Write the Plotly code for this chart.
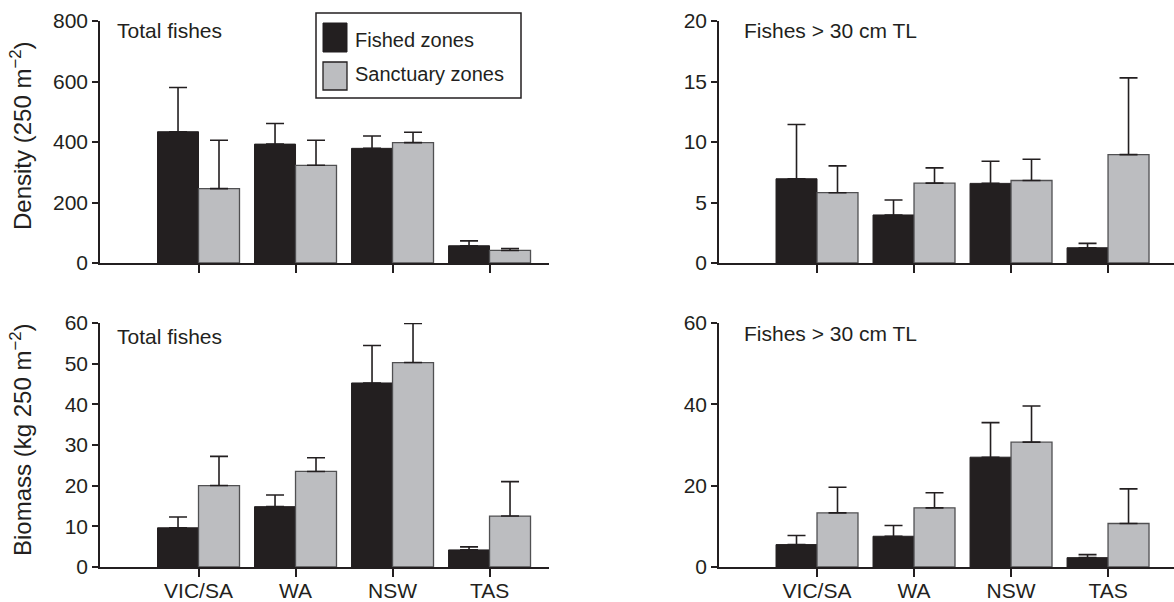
import plotly.graph_objects as go

W, H = 1174, 602

# ---------------- data ----------------
regions = ["VIC/SA", "WA", "NSW", "TAS"]
series_names = ["Fished zones", "Sanctuary zones"]

density_total_fished = [434, 393, 379, 57]
density_total_fished_err = [146, 68, 41, 16]
density_total_sanct = [246, 323, 398, 41.5]
density_total_sanct_err = [160, 83, 34, 6.5]

density_large_fished = [6.96, 3.97, 6.58, 1.26]
density_large_fished_err = [4.49, 1.24, 1.83, 0.36]
density_large_sanct = [5.81, 6.60, 6.82, 8.96]
density_large_sanct_err = [2.22, 1.26, 1.76, 6.34]

biomass_total_fished = [9.64, 14.84, 45.25, 4.2]
biomass_total_fished_err = [2.64, 2.88, 9.23, 0.75]
biomass_total_sanct = [20.03, 23.49, 50.27, 12.53]
biomass_total_sanct_err = [7.17, 3.38, 9.63, 8.47]

biomass_large_fished = [5.51, 7.56, 27.0, 2.3]
biomass_large_fished_err = [2.22, 2.64, 8.5, 0.74]
biomass_large_sanct = [13.3, 14.55, 30.7, 10.7]
biomass_large_sanct_err = [6.3, 3.7, 8.9, 8.5]

panel_titles = ["Total fishes", "Fishes > 30 cm TL", "Total fishes", "Fishes > 30 cm TL"]
y_titles = ["Density (250 m<sup>−2</sup>)", "Biomass (kg 250 m<sup>−2</sup>)"]
y_ticks = [[0, 200, 400, 600, 800], [0, 5, 10, 15, 20], [0, 10, 20, 30, 40, 50, 60], [0, 20, 40, 60]]

# ---------------- style ----------------
INK = "#231f20"
GRAY = "#bcbdc0"
GRAY_EDGE = "#505052"
FONT = "Liberation Sans, Arial, Helvetica, sans-serif"
FS_TICK = 21
FS_LABEL = 21
FS_LEG = 20
FS_YT = 24


def px_x(p):
    return p / W


def px_y(p):
    return 1 - p / H


panels = [
    (density_total_fished, density_total_fished_err, density_total_sanct, density_total_sanct_err),
    (density_large_fished, density_large_fished_err, density_large_sanct, density_large_sanct_err),
    (biomass_total_fished, biomass_total_fished_err, biomass_total_sanct, biomass_total_sanct_err),
    (biomass_large_fished, biomass_large_fished_err, biomass_large_sanct, biomass_large_sanct_err),
]

fig = go.Figure()

for i, (f, fe, s, se) in enumerate(panels):
    suffix = "" if i == 0 else str(i + 1)
    xa, ya = "x" + suffix, "y" + suffix
    fig.add_trace(go.Bar(
        x=regions, y=f, name=series_names[0], xaxis=xa, yaxis=ya,
        marker=dict(color=INK, line=dict(color=INK, width=1)),
        error_y=dict(type="data", array=fe, arrayminus=[0] * len(fe), symmetric=False,
                     color=INK, thickness=1.6, width=9),
        showlegend=False,
    ))
    fig.add_trace(go.Bar(
        x=regions, y=s, name=series_names[1], xaxis=xa, yaxis=ya,
        marker=dict(color=GRAY, line=dict(color=GRAY_EDGE, width=1.3)),
        error_y=dict(type="data", array=se, arrayminus=[0] * len(se), symmetric=False,
                     color=INK, thickness=1.6, width=9),
        showlegend=False,
    ))

# domains (pixels -> paper)
x_dom_left = [px_x(100), px_x(549)]
x_dom_right = [px_x(719), 1.0]
y_dom_top = [px_y(263), px_y(21)]
y_dom_bot = [px_y(567), px_y(323)]

x_ranges = [[-1.0155, 3.613], [-1.0103, 3.68], [-1.0155, 3.613], [-1.0103, 3.68]]
y_ranges = [[0, 800], [0, 20], [0, 60], [0, 60]]
x_doms = [x_dom_left, x_dom_right, x_dom_left, x_dom_right]
y_doms = [y_dom_top, y_dom_top, y_dom_bot, y_dom_bot]

layout = dict(
    width=W, height=H, autosize=False,
    margin=dict(l=0, r=0, t=0, b=0, pad=0, autoexpand=False),
    paper_bgcolor="white", plot_bgcolor="white",
    barmode="group", bargap=0.155, bargroupgap=0,
    font=dict(family=FONT, size=FS_TICK, color=INK),
)

for i in range(4):
    suffix = "" if i == 0 else str(i + 1)
    layout["xaxis" + suffix] = dict(
        domain=x_doms[i], anchor="y" + suffix, type="category",
        categoryorder="array", categoryarray=regions,
        range=x_ranges[i], showgrid=False, zeroline=False,
        showline=True, linecolor=INK, linewidth=1.5,
        ticks="outside", ticklen=8, tickwidth=1.5, tickcolor=INK,
        showticklabels=(i >= 2), tickfont=dict(size=FS_TICK, color=INK),
        ticklabelstandoff=-4, automargin=False,
    )
    layout["yaxis" + suffix] = dict(
        domain=y_doms[i], anchor="x" + suffix, range=y_ranges[i],
        tickvals=y_ticks[i], showgrid=False, zeroline=False,
        showline=True, linecolor=INK, linewidth=1.5,
        ticks="outside", ticklen=6, tickwidth=1.5, tickcolor=INK,
        tickfont=dict(size=FS_TICK, color=INK), automargin=False,
    )

fig.update_layout(**layout)

# panel labels
label_pos = [(115, 31), (742, 31), (115, 336), (742, 333)]
for txt, (lx, ly) in zip(panel_titles, label_pos):
    fig.add_annotation(text=txt, xref="paper", yref="paper", x=px_x(lx), y=px_y(ly),
                       xanchor="left", yanchor="middle", showarrow=False,
                       font=dict(size=FS_LABEL, color=INK, family=FONT))

# y-axis titles
for txt, cy in zip(y_titles, [136, 440]):
    fig.add_annotation(text=txt, xref="paper", yref="paper", x=px_x(21), y=px_y(cy),
                       xanchor="center", yanchor="middle", textangle=-90, showarrow=False,
                       font=dict(size=FS_YT, color=INK, family=FONT))

# legend (box, swatches, labels)
fig.add_shape(type="rect", xref="paper", yref="paper",
              x0=px_x(316), x1=px_x(521), y0=px_y(98), y1=px_y(13),
              line=dict(color=INK, width=1.5), fillcolor="white")
fig.add_shape(type="rect", xref="paper", yref="paper",
              x0=px_x(323), x1=px_x(347), y0=px_y(52), y1=px_y(23),
              line=dict(color=INK, width=1), fillcolor=INK)
fig.add_shape(type="rect", xref="paper", yref="paper",
              x0=px_x(323), x1=px_x(347), y0=px_y(90), y1=px_y(62),
              line=dict(color=INK, width=1.3), fillcolor=GRAY)
for txt, ly in zip(series_names, [40, 74]):
    fig.add_annotation(text=txt, xref="paper", yref="paper", x=px_x(353), y=px_y(ly),
                       xanchor="left", yanchor="middle", showarrow=False,
                       font=dict(size=FS_LEG, color=INK, family=FONT))

fig.write_html("out.html", config={"displayModeBar": False},
               post_script="document.body.style.margin='0px';")
